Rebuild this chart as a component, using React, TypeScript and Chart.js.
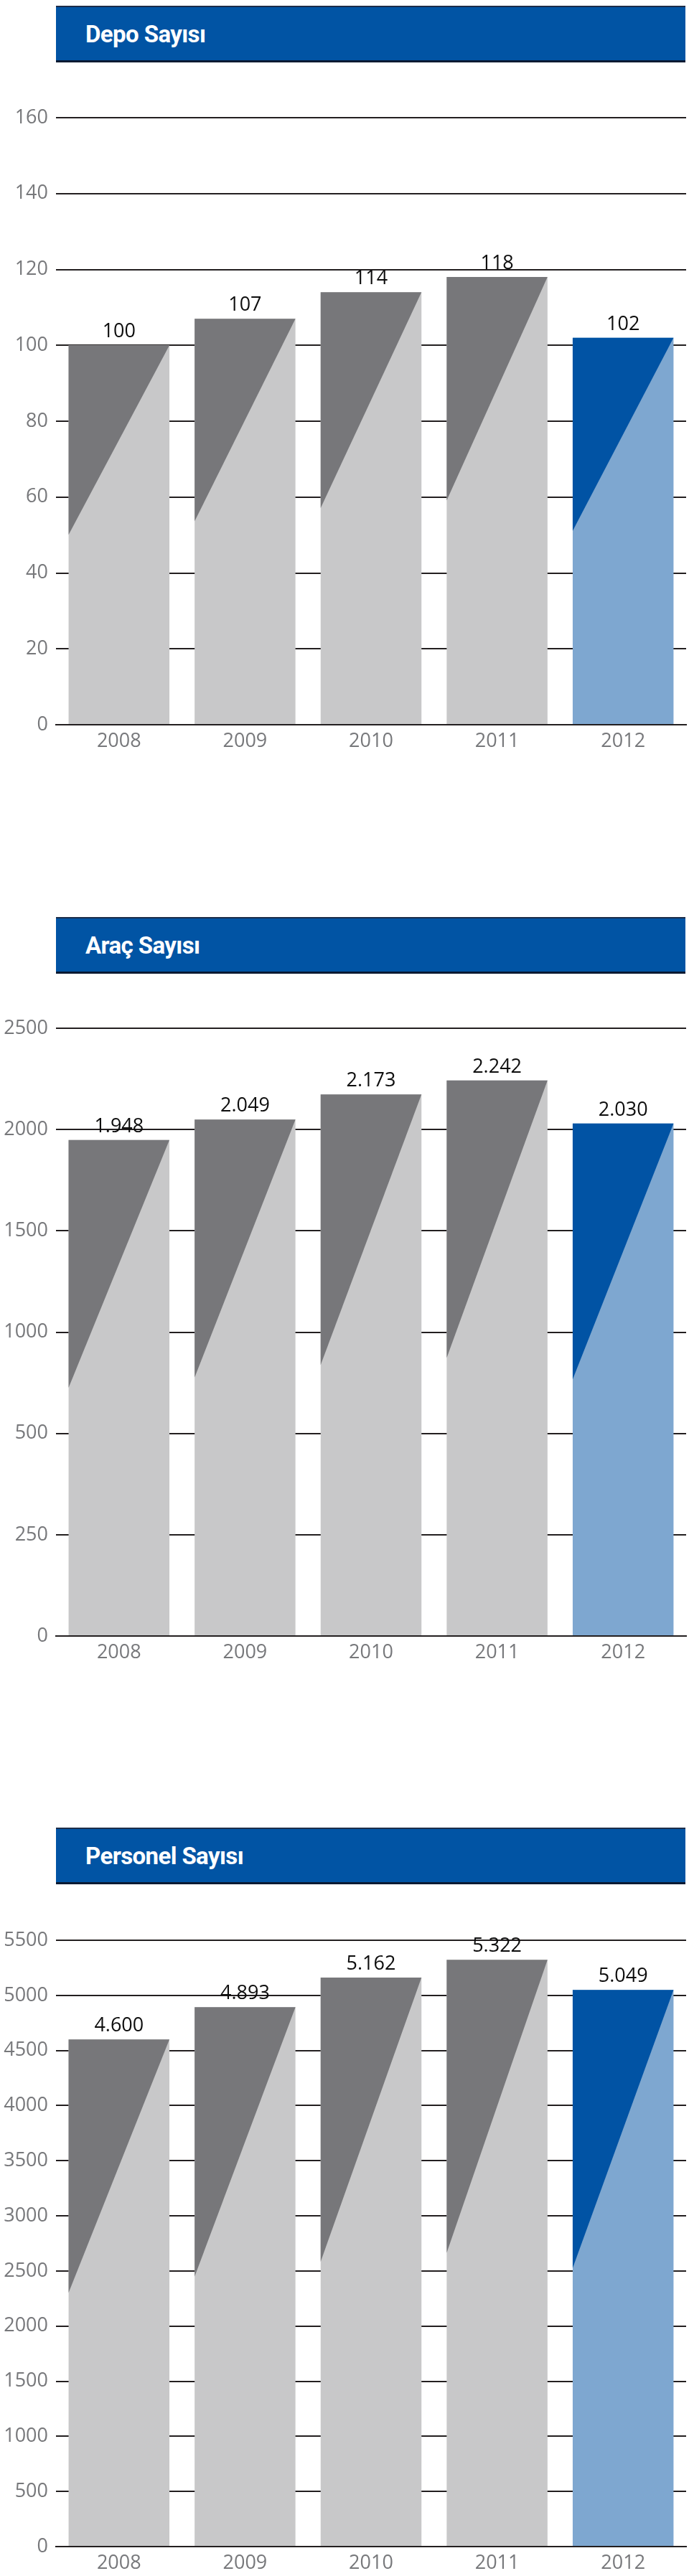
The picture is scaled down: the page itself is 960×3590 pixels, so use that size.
import React, { useEffect, useRef } from 'react';
import { Chart, registerables } from 'chart.js';

Chart.register(...registerables);

// ---- data ----
const years = ['2008', '2009', '2010', '2011', '2012'];

const depoTitle = 'Depo Sayısı';
const depoValues = [100, 107, 114, 118, 102];
const depoTickValues = [0, 20, 40, 60, 80, 100, 120, 140, 160];
const depoTickLabels = ['0', '20', '40', '60', '80', '100', '120', '140', '160'];

const aracTitle = 'Araç Sayısı';
const aracValues = [1948, 2049, 2173, 2242, 2030];
// the source axis is broken at the bottom: lowest gridline is labelled 0, next 250
const aracTickValues = [-500, 0, 500, 1000, 1500, 2000, 2500];
const aracTickLabels = ['0', '250', '500', '1000', '1500', '2000', '2500'];

const personelTitle = 'Personel Sayısı';
const personelValues = [4600, 4893, 5162, 5322, 5049];
const personelTickValues = [0, 500, 1000, 1500, 2000, 2500, 3000, 3500, 4000, 4500, 5000, 5500];
const personelTickLabels = ['0', '500', '1000', '1500', '2000', '2500', '3000', '3500', '4000', '4500', '5000', '5500'];

// ---- styling ----
const LIGHT = ['#c8c8c9', '#c8c8c9', '#c8c8c9', '#c8c8c9', '#7ea7d0'];
const DARK = ['#77777a', '#77777a', '#77777a', '#77777a', '#0153a4'];
const GRID = '#231f20';
const TICK_COLOR = '#77787b';
const FONT = '"Open Sans", "DejaVu Sans", sans-serif';

function trFormat(v: number): string {
  return String(v).replace(/\B(?=(\d{3})+(?!\d))/g, '.');
}

const splitBarPlugin = {
  id: 'splitBar',
  afterDatasetsDraw(chart: any, _args: any, opts: any) {
    const meta = chart.getDatasetMeta(0);
    const ctx = chart.ctx;
    meta.data.forEach((el: any, i: number) => {
      const p = el.getProps(['x', 'y', 'base', 'width'], true);
      const left = p.x - p.width / 2;
      const right = p.x + p.width / 2;
      const mid = p.y + (p.base - p.y) * 0.5;
      ctx.save();
      ctx.fillStyle = opts.dark[i];
      ctx.beginPath();
      ctx.moveTo(left, p.y);
      ctx.lineTo(right, p.y);
      ctx.lineTo(left, mid);
      ctx.closePath();
      ctx.fill();
      ctx.fillStyle = '#0d0d0d';
      ctx.font = `27px ${FONT}`;
      ctx.textAlign = 'center';
      ctx.textBaseline = 'alphabetic';
      ctx.fillText(opts.labels[i], p.x, p.y - 11);
      ctx.restore();
    });
  },
};

type ChartProps = {
  top: number;
  height: number;
  values: number[];
  labels: string[];
  tickValues: number[];
  tickLabels: string[];
};

function BarChart({ top, height, values, labels, tickValues, tickLabels }: ChartProps) {
  const ref = useRef<HTMLCanvasElement>(null);
  useEffect(() => {
    if (!ref.current) return;
    const yMin = tickValues[0];
    const yMax = tickValues[tickValues.length - 1];
    const chart = new Chart(ref.current, {
      type: 'bar',
      data: {
        labels: years,
        datasets: [
          {
            data: values,
            backgroundColor: LIGHT,
            borderWidth: 0,
            base: yMin,
            categoryPercentage: 0.8,
            barPercentage: 1,
          } as any,
        ],
      },
      options: {
        responsive: false,
        animation: false,
        devicePixelRatio: 1,
        layout: { padding: { top: 30, right: 4, bottom: 10, left: 0 } },
        plugins: {
          legend: { display: false },
          tooltip: { enabled: false },
          title: { display: false },
          splitBar: { dark: DARK, labels },
        } as any,
        scales: {
          x: {
            grid: { display: false, drawTicks: false },
            border: { display: true, color: GRID, width: 2, z: 1 },
            ticks: { color: TICK_COLOR, font: { family: FONT, size: 27 }, padding: 7 },
            afterFit: (s: any) => {
              s.height = 50;
            },
          },
          y: {
            min: yMin,
            max: yMax,
            afterBuildTicks: (s: any) => {
              s.ticks = tickValues.map((v) => ({ value: v }));
            },
            grid: { color: GRID, lineWidth: 2, drawTicks: false },
            border: { display: false },
            ticks: {
              color: TICK_COLOR,
              font: { family: FONT, size: 27 },
              padding: 11,
              callback: (v: any) => {
                const idx = tickValues.indexOf(Number(v));
                return idx >= 0 ? tickLabels[idx] : '';
              },
            },
            afterFit: (s: any) => {
              s.width = 78;
            },
          },
        },
      },
      plugins: [splitBarPlugin],
    });
    return () => chart.destroy();
  }, []);
  return (
    <canvas
      ref={ref}
      width={960}
      height={height}
      style={{ position: 'absolute', left: 0, top, width: 960, height }}
    />
  );
}

function Header({ top, title }: { top: number; title: string }) {
  return (
    <div
      style={{
        position: 'absolute',
        left: 78,
        top,
        width: 877,
        height: 79,
        boxSizing: 'border-box',
        background: '#0154a4',
        borderTop: '2px solid #1c2d4a',
        borderBottom: '3px solid #0b1a33',
        display: 'flex',
        alignItems: 'center',
        paddingLeft: 41,
        color: '#ffffff',
        fontFamily: 'Roboto, "Open Sans", sans-serif',
        fontWeight: 700,
        fontSize: 33,
        letterSpacing: -0.6,
      }}
    >
      {title}
    </div>
  );
}

export default function App() {
  return (
    <div
      style={{
        position: 'absolute',
        left: 0,
        top: 0,
        width: 960,
        height: 3590,
        background: '#ffffff',
        overflow: 'hidden',
      }}
    >
      <Header top={8} title={depoTitle} />
      <BarChart
        top={134}
        height={936}
        values={depoValues}
        labels={depoValues.map(trFormat)}
        tickValues={depoTickValues}
        tickLabels={depoTickLabels}
      />
      <Header top={1278} title={aracTitle} />
      <BarChart
        top={1403}
        height={937}
        values={aracValues}
        labels={aracValues.map(trFormat)}
        tickValues={aracTickValues}
        tickLabels={aracTickLabels}
      />
      <Header top={2547} title={personelTitle} />
      <BarChart
        top={2674}
        height={935}
        values={personelValues}
        labels={personelValues.map(trFormat)}
        tickValues={personelTickValues}
        tickLabels={personelTickLabels}
      />
    </div>
  );
}
